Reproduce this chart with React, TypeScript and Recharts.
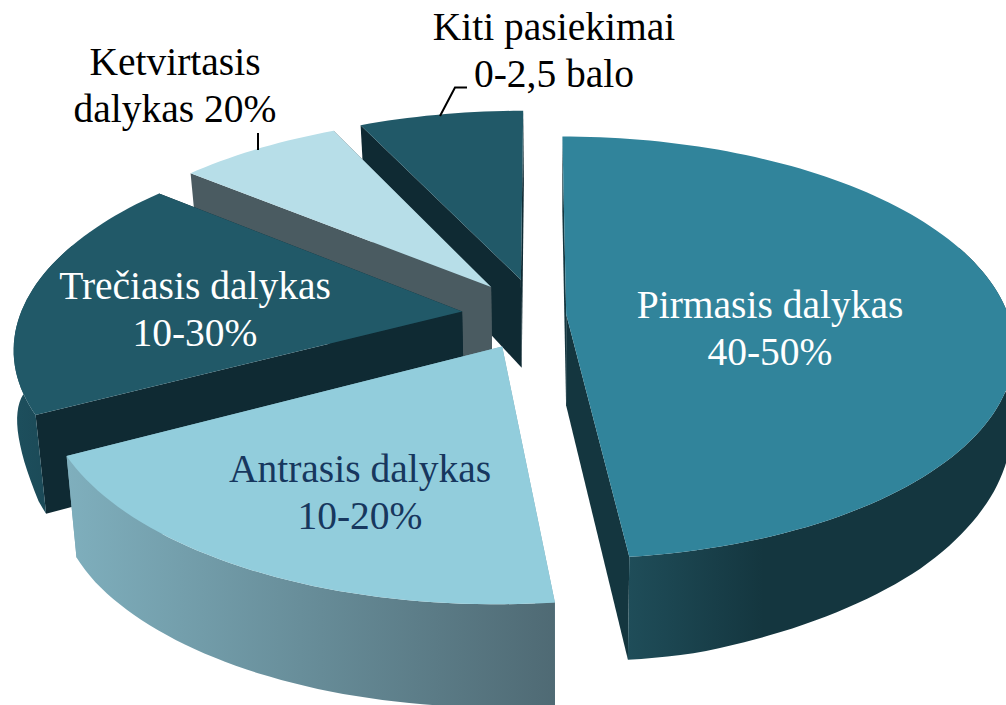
import { PieChart, Pie } from 'recharts'

// back slices come first so the front ones paint over them
const sliceNames = ['Kiti pasiekimai', 'Ketvirtasis dalykas', 'Trečiasis dalykas', 'Antrasis dalykas', 'Pirmasis dalykas']
const sliceValues = [7.04, 6.96, 18.6, 18.9, 48]
const labelLines = [
  ['Kiti pasiekimai', '0-2,5 balo'],
  ['Ketvirtasis', 'dalykas 20%'],
  ['Trečiasis dalykas', '10-30%'],
  ['Antrasis dalykas', '10-20%'],
  ['Pirmasis dalykas', '40-50%'],
]

const data = sliceNames.map((name, i) => ({ name, value: sliceValues[i] }))

const explode = [0.18, 0.176, 0.173, 0.169, 0.064]
const topColors = ['#215968', '#b7dee8', '#215968', '#92cddc', '#31849b']
const cutColors = ['#0f2a33', '#4a5b61', '#0f2a33', '#7fa9b6', '#14363f']
const wallFrom = ['#1d4f5d', '#7fa9b6', '#1d4f5d', '#7fafbd', '#1f4d59']
const wallTo = ['#1d4f5d', '#7fa9b6', '#1a4552', '#4f6a74', '#14363f']
const wallToOffset = ['100%', '100%', '100%', '100%', '35%']
const labelColors = ['#000000', '#000000', '#ffffff', '#17375e', '#ffffff']
const labelPos = [
  { x: 554, y: 40 },
  { x: 175, y: 75 },
  { x: 195, y: 299 },
  { x: 360, y: 482 },
  { x: 770, y: 318 },
]

const CX = 538
const CY = 315
const RADIUS = 442
const TILT = 0.466
const PERSP = 0.158

type Pt = { x: number; y: number; Y: number }

function project(X: number, Y: number): Pt {
  const w = 1 + PERSP * Y
  return { x: CX + (RADIUS * X) / w, y: CY - (RADIUS * TILT * Y) / w, Y }
}

// the floor of the slab, the depth shrinks towards the back and the far sides
function lower(p: Pt): Pt {
  const depth = Math.min(103, 91 - 17 * p.Y) - Math.max(0, p.x - 700) * 0.05 - Math.max(0, 30 - p.x) * 1.5
  const shift = Math.max(-3, Math.min((560 - p.x) * 0.02, (p.x - 5) * 0.4))
  return { x: p.x + shift, y: p.y + depth, Y: p.Y }
}

const toPath = (pts: Pt[]) => 'M' + pts.map((p) => `${p.x.toFixed(1)},${p.y.toFixed(1)}`).join('L') + 'Z'

function Slice3D(props: any) {
  const { startAngle, endAngle, index } = props
  const rad = Math.PI / 180
  const mid = ((startAngle + endAngle) / 2) * rad
  const ox = explode[index] * Math.cos(mid)
  const oy = explode[index] * Math.sin(mid)

  const apex = project(ox, oy)
  const arc: Pt[] = []
  const front: Pt[] = []
  const addPoint = (a: number) => {
    const p = project(ox + Math.cos(a * rad), oy + Math.sin(a * rad))
    arc.push(p)
    // only the part of the rim that faces the viewer gets a wall
    if (Math.sin(a * rad) < 0.35) front.push(p)
  }
  for (let a = startAngle; a < endAngle; a += 1.5) addPoint(a)
  addPoint(endAngle)
  const first = arc[0]
  const last = arc[arc.length - 1]

  return (
    <g>
      <defs>
        <linearGradient id={`wall-${index}`} x1="0" y1="0" x2="1" y2="0">
          <stop offset="0%" stopColor={wallFrom[index]} />
          <stop offset={wallToOffset[index]} stopColor={wallTo[index]} />
        </linearGradient>
      </defs>
      <path d={toPath([apex, first, lower(first), lower(apex)])} fill={cutColors[index]} />
      <path d={toPath([apex, last, lower(last), lower(apex)])} fill={cutColors[index]} />
      {front.length > 1 && <path d={toPath([...front, ...front.map(lower).reverse()])} fill={`url(#wall-${index})`} />}
      <path d={toPath([apex, ...arc])} fill={topColors[index]} />
    </g>
  )
}

function renderLabel(props: any) {
  const { index } = props
  const pos = labelPos[index]
  return (
    <g key={index}>
      {index === 0 && <path d="M440,116L455,87.5L467,87.5" fill="none" stroke="#000" strokeWidth={2} />}
      {index === 1 && <path d="M258,133L258,150" fill="none" stroke="#000" strokeWidth={2} />}
      {labelLines[index].map((line, i) => (
        <text
          key={line}
          x={pos.x}
          y={pos.y + i * 47}
          textAnchor="middle"
          fontFamily="'Liberation Serif', serif"
          fontSize={39.5}
          fill={labelColors[index]}
        >
          {line}
        </text>
      ))}
    </g>
  )
}

export default function App() {
  return (
    <div style={{ position: 'absolute', left: 0, top: 0, width: 1006, height: 705, background: '#fff', overflow: 'hidden' }}>
      <PieChart width={1006} height={705} margin={{ top: 0, right: 0, bottom: 0, left: 0 }}>
        <Pie
          data={data}
          dataKey="value"
          nameKey="name"
          cx={CX}
          cy={CY}
          innerRadius={0}
          outerRadius={RADIUS}
          startAngle={90}
          endAngle={450}
          stroke="none"
          shape={Slice3D}
          label={renderLabel}
          labelLine={false}
          isAnimationActive={false}
        />
      </PieChart>
    </div>
  )
}
